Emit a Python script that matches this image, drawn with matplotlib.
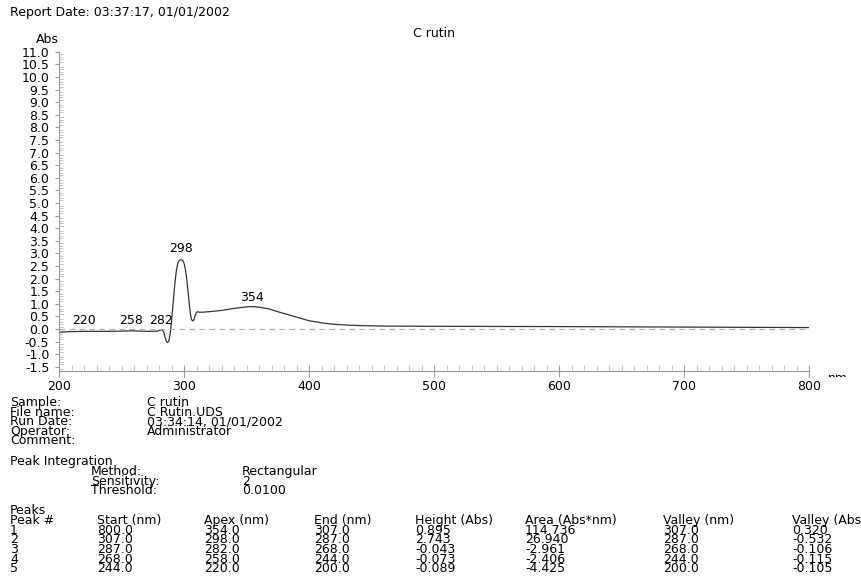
import numpy as np
import matplotlib
matplotlib.use('Agg')
from matplotlib import pyplot as plt
from matplotlib.patches import Rectangle
from matplotlib.ticker import MultipleLocator

plt.rcParams['font.family'] = ['DejaVu Sans']

# spectrum (nm, Abs)
wavelength = [200, 210, 220, 230, 240, 250, 258, 265, 270, 275, 279, 281, 282, 283, 284, 285,
              286, 287, 288, 289, 290, 291, 292, 293, 294, 295, 296, 297, 298, 299, 300, 301,
              302, 303, 304, 305, 306, 307, 308, 309, 310, 311, 312, 315, 320, 330, 340, 348,
              354, 360, 368, 375, 387, 400, 410, 420, 430, 440, 460, 500, 600, 700, 800]
absorbance = [-0.12, -0.10, -0.09, -0.09, -0.09, -0.08, -0.07, -0.08, -0.09, -0.09, -0.08, -0.04,
              -0.03, -0.05, -0.15, -0.35, -0.50, -0.53, -0.45, -0.15, 0.30, 0.85, 1.45, 1.95,
              2.35, 2.60, 2.71, 2.74, 2.743, 2.72, 2.62, 2.40, 2.05, 1.60, 1.10, 0.65, 0.38,
              0.32, 0.38, 0.55, 0.66, 0.69, 0.67, 0.67, 0.69, 0.74, 0.82, 0.87, 0.895, 0.87,
              0.80, 0.69, 0.52, 0.33, 0.25, 0.19, 0.16, 0.14, 0.12, 0.11, 0.10, 0.08, 0.06]

peak_labels = ['220', '258', '282', '298', '354']
peak_x = [220, 258, 282, 298, 354]
peak_y = [0.1, 0.1, 0.1, 2.95, 1.0]

info_keys = ['Sample:', 'File name:', 'Run Date:', 'Operator:', 'Comment:']
info_vals = ['C rutin', 'C Rutin.UDS', '03:34:14, 01/01/2002', 'Administrator', '']
integ_keys = ['Method:', 'Sensitivity:', 'Threshold:']
integ_vals = ['Rectangular', '2', '0.0100']

headers = ['Peak #', 'Start (nm)', 'Apex (nm)', 'End (nm)', 'Height (Abs)',
           'Area (Abs*nm)', 'Valley (nm)', 'Valley (Abs)']
peak_no = ['1', '2', '3', '4', '5']
start_nm = ['800.0', '307.0', '287.0', '268.0', '244.0']
apex_nm = ['354.0', '298.0', '282.0', '258.0', '220.0']
end_nm = ['307.0', '287.0', '268.0', '244.0', '200.0']
height_abs = ['0.895', '2.743', '-0.043', '-0.073', '-0.089']
area = ['114.736', '26.940', '-2.961', '-2.406', '-4.425']
valley_nm = ['307.0', '287.0', '268.0', '244.0', '200.0']
valley_abs = ['0.320', '-0.532', '-0.106', '-0.115', '-0.105']

W, H = 862, 581
fs = 9
fig = plt.figure(figsize=(W / 100, H / 100), dpi=100)
ax = fig.add_axes([59 / W, 1 - 370.7 / H, 750 / W, 319 / H])

ax.plot(wavelength, absorbance, color='#333333', lw=0.9)
ax.plot([200, 800], [0, 0], color='#aaaaaa', lw=0.8, ls=(0, (5, 4)))
for lab, px, py in zip(peak_labels, peak_x, peak_y):
    ax.text(px, py, lab, ha='center', va='bottom', fontsize=fs)

ax.set_xlim(200, 800)
ax.set_ylim(-1.65, 11.0)
ax.set_yticks(np.arange(-1.5, 11.01, 0.5))
ax.set_yticklabels(['%.1f' % v for v in np.arange(-1.5, 11.01, 0.5)])
ax.yaxis.set_minor_locator(MultipleLocator(0.1))
ax.set_xticks([200, 300, 400, 500, 600, 700, 800])
ax.xaxis.set_minor_locator(MultipleLocator(10))
for s in ['top', 'right']:
    ax.spines[s].set_visible(False)
for s in ['left', 'bottom']:
    ax.spines[s].set_color('#999999')
    ax.spines[s].set_linewidth(0.8)
ax.tick_params(axis='y', which='major', direction='out', length=3, color='#999999',
               labelsize=fs, pad=4)
ax.tick_params(axis='y', which='minor', direction='in', length=3, color='#bbbbbb', width=0.6)
ax.tick_params(axis='x', which='major', direction='inout', length=8, color='#999999',
               labelsize=fs, pad=3)
ax.tick_params(axis='x', which='minor', direction='in', length=4, color='#bbbbbb', width=0.6)

def put(x, y, s, **kw):
    fig.text(x / W, 1 - y / H, s, fontsize=fs, va='baseline', **kw)

put(10, 16, 'Report Date: 03:37:17, 01/01/2002')
put(434, 37, 'C rutin', ha='center')
put(47, 43, 'Abs', ha='center')

# axis unit, clipped like in the report
nm = fig.text(838 / W, 1 - 382 / H, 'nm', fontsize=fs, va='baseline', ha='center')
nm.set_clip_path(Rectangle((820, H - 377), 40, 4, transform=None))

for i, (k, v) in enumerate(zip(info_keys, info_vals)):
    put(10, 406 + i * 9.6, k)
    if v:
        put(147, 406 + i * 9.6, v)
put(10, 465, 'Peak Integration')
for i, (k, v) in enumerate(zip(integ_keys, integ_vals)):
    put(91, 474.8 + i * 9.8, k)
    put(242, 474.8 + i * 9.8, v)

put(10, 514, 'Peaks')
col_x = [10, 97, 204, 314, 415, 525, 663, 792]
for cx, h in zip(col_x, headers):
    put(cx, 523.8, h)
columns = [peak_no, start_nm, apex_nm, end_nm, height_abs, area, valley_nm, valley_abs]
for cx, col in zip(col_x, columns):
    for r, val in enumerate(col):
        put(cx, 533.5 + r * 9.75, val)

fig.savefig('out.png', dpi=100)
